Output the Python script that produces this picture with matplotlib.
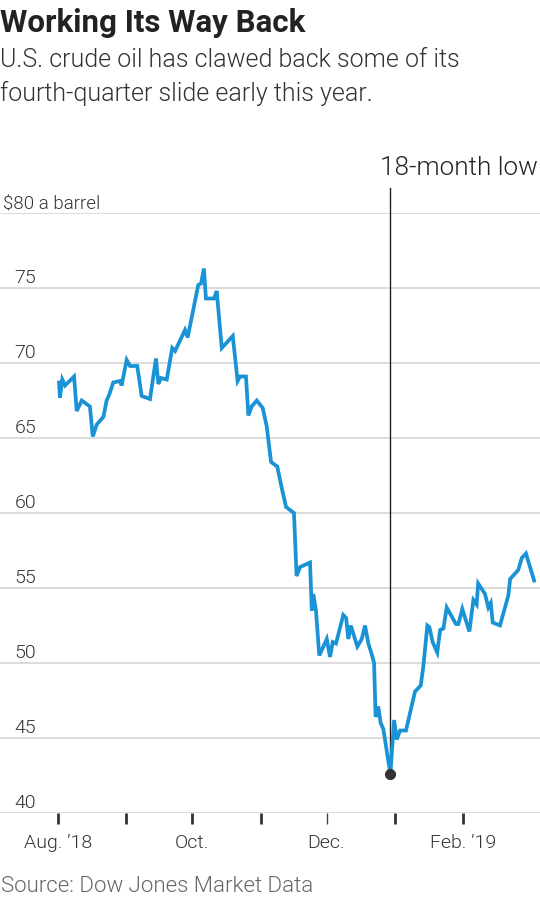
import matplotlib
matplotlib.use("Agg")
import matplotlib.pyplot as plt
import matplotlib.transforms as mtransforms

# ---- data (days since 2018-08-01, WTI $/barrel) ----
days = [0.45, 0.9, 1.95, 3.2, 7.3, 8.5, 10.8, 14.5, 15.8, 17.6, 20.6, 22.1, 23.3, 25.1,
        28.2, 28.9, 31.2, 32.7, 36.0, 38.0, 41.8, 44.5, 45.6, 46.8, 49.4, 51.9, 53.2,
        57.7, 58.9, 61.8, 63.7, 65.0, 66.3, 67.2, 70.9, 72.1, 74.4, 79.4, 81.6, 82.7,
        85.4, 86.5, 88.0, 90.3, 93.0, 94.8, 96.8, 99.6, 101.6, 103.6, 107.2, 108.4,
        110.0, 114.5, 115.3, 116.0, 117.2, 118.7, 122.1, 123.6, 124.8, 126.3, 129.6,
        130.9, 131.9, 133.0, 136.0, 138.0, 139.5, 141.0, 142.5, 143.6, 144.3, 145.5,
        146.6, 147.8, 151.0, 152.7, 153.9, 155.4, 158.1, 162.2, 164.8, 166.0, 167.8,
        168.7, 170.2, 172.3, 173.6, 175.1, 176.6, 180.8, 181.9, 183.7, 186.9, 188.7,
        190.2, 190.9, 194.0, 195.5, 196.6, 197.5, 200.8, 204.6, 205.4, 209.1, 210.7,
        212.6, 216.3]
prices = [68.7, 67.7, 68.9, 68.5, 69.1, 66.8, 67.5, 67.1, 65.1, 65.9, 66.4, 67.5, 67.9, 68.7,
          68.8, 68.5, 70.2, 69.8, 69.8, 67.8, 67.6, 70.3, 68.6, 69.0, 68.9, 71.0, 70.8,
          72.2, 71.7, 73.8, 75.2, 75.3, 76.3, 74.3, 74.3, 74.8, 71.0, 71.8, 68.8, 69.1,
          69.1, 66.5, 67.1, 67.5, 67.0, 65.8, 63.4, 63.1, 61.7, 60.4, 60.0, 55.8,
          56.4, 56.7, 53.5, 54.6, 53.5, 50.5, 51.6, 50.4, 51.4, 51.3, 53.2,
          53.0, 51.6, 52.5, 51.1, 51.6, 52.5, 51.3, 50.6, 50.0, 46.4, 47.1,
          46.0, 45.6, 42.6, 46.2, 44.9, 45.5, 45.5, 48.1, 48.5, 49.8, 52.5,
          52.4, 51.4, 50.7, 52.2, 52.3, 53.7, 52.6, 52.6, 53.6, 52.1, 54.2,
          53.9, 55.3, 54.6, 53.7, 54.0, 52.7, 52.5, 54.5, 55.6, 56.2, 57.0,
          57.3, 55.5]

month_ticks = [0, 31, 61, 92, 153, 184]
month_labels = ["Aug. \u201918", "", "Oct.", "", "", "Feb. \u201919"]
dec_tick = [122]
dec_label = ["Dec."]
y_ticks = [40, 45, 50, 55, 60, 65, 70, 75, 80]
y_labels = ["40", "45", "50", "55", "60", "65", "70", "75", "$80 a barrel"]

title = "Working Its Way Back"
subtitle = ["U.S. crude oil has clawed back some of its",
            "fourth-quarter slide early this year."]
annotation = "18-month low"
source = "Source: Dow Jones Market Data"

FONT = ["Roboto", "DejaVu Sans"]
plt.rcParams["font.family"] = FONT
LIGHT = 300

W, H = 540, 900
fig = plt.figure(figsize=(W / 100, H / 100), dpi=100)
fig.patch.set_facecolor("white")

# axes spanning full width, y from 213 px (80) to 813 px (40)
ax = fig.add_axes([0, 1 - 813 / H, 1, 600 / H])
ax.set_facecolor("white")
px_per_day = (463 - 58) / 184.0
x0 = -58 / px_per_day
x1 = (540 - 58) / px_per_day
ax.set_xlim(x0, x1)
ax.set_ylim(40, 80)

for s in ax.spines.values():
    s.set_visible(False)

# gridlines
for yv in y_ticks:
    ax.axhline(yv, color="#dcdcdc", lw=1.4, zorder=1)

# line
ax.plot(days, prices, color="#1a93d6", lw=2.7, solid_joinstyle="miter", zorder=3)

# low marker + vertical line
imin = min(range(len(prices)), key=lambda i: prices[i])
xl, yl = days[imin], prices[imin]
ax.plot([xl, xl], [yl, 80 + 25 / 15.0], color="#222222", lw=1.0, clip_on=False, zorder=2)
ax.plot([xl], [yl], "o", color="#333333", ms=7, zorder=4)
ax.text(x1 - 2 / px_per_day, 80 + 38 / 15.0, annotation, ha="right", va="baseline",
        fontsize=18.8, fontweight=LIGHT, color="#222222", clip_on=False)

# y labels inside plot
ytrans = mtransforms.blended_transform_factory(fig.transFigure, ax.transData)
for yv, lab in zip(y_ticks, y_labels):
    if lab.startswith("$"):
        ax.text(3 / W, yv + 5 / 15.0, lab, transform=ytrans, ha="left", va="baseline",
                fontsize=13.5, fontweight=LIGHT, color="#333333")
    else:
        ax.text(36 / W, yv + 5 / 15.0, lab, transform=ytrans, ha="right", va="baseline",
                fontsize=14, fontweight=LIGHT, color="#333333")

# x ticks (December tick drawn thinner, as in the original)
ax.set_xticks(month_ticks)
ax.set_xticklabels(month_labels, fontsize=14, fontweight=LIGHT, color="#333333")
ax.set_xticks(dec_tick, minor=True)
ax.set_xticklabels(dec_label, minor=True, fontsize=14, fontweight=LIGHT, color="#333333")
ax.tick_params(axis="x", which="major", length=8, width=2, color="#333333", pad=7,
               direction="out")
ax.tick_params(axis="x", which="minor", length=8, width=1, color="#444444", pad=7,
               direction="out")
ax.set_yticks([])

# titles
fig.text(0 / W, 1 - 32 / H, title, fontsize=22.5, fontweight="bold", color="#222222",
         ha="left", va="baseline")
fig.text(0 / W, 1 - 67 / H, subtitle[0], fontsize=18, fontweight=LIGHT, color="#333333",
         ha="left", va="baseline")
fig.text(0 / W, 1 - 101 / H, subtitle[1], fontsize=18, fontweight=LIGHT, color="#333333",
         ha="left", va="baseline")
fig.text(1 / W, 1 - 892 / H, source, fontsize=16, fontweight=LIGHT, color="#666666",
         ha="left", va="baseline")

fig.savefig("out.png", dpi=100, facecolor="white")
